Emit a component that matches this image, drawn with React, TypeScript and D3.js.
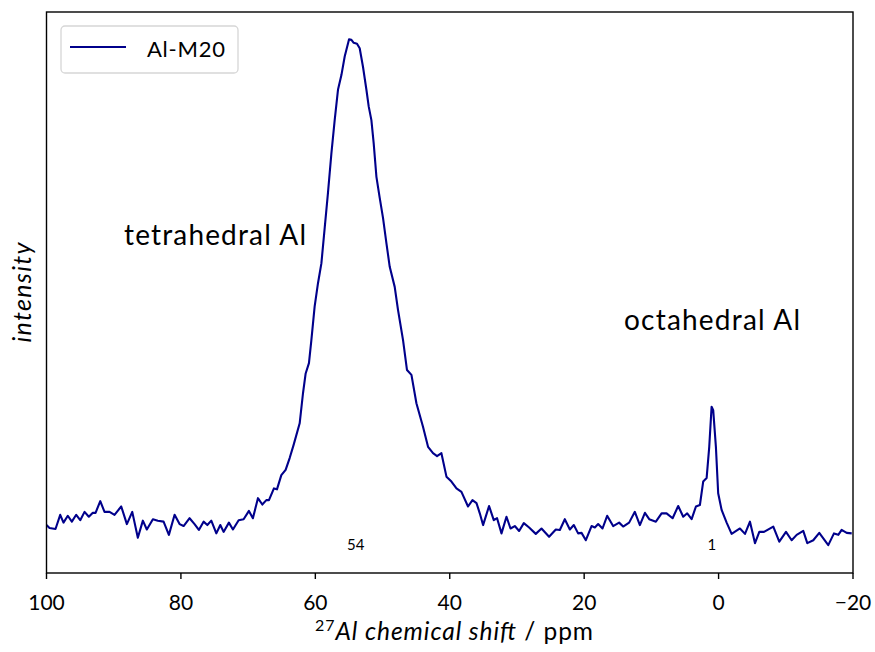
import React from "react";
import * as d3 from "d3";

const ppm: number[] = [
  100.0, 99.55, 98.66, 97.96, 97.47, 96.83, 96.23, 95.58, 94.98, 94.34, 93.7, 93.11, 92.7, 92.0, 91.37, 90.62, 89.88,
  88.88, 88.04, 87.24, 86.41, 85.66, 85.07, 84.17, 83.43, 82.58, 81.79, 80.94, 80.2, 79.6, 78.71, 77.97, 77.33,
  76.63, 76.07, 75.48, 74.73, 74.14, 73.65, 72.86, 72.26, 71.41, 70.67, 69.88, 69.29, 68.54, 67.89, 67.29, 66.9,
  66.16, 65.71, 65.06, 64.42, 63.82, 63.23, 62.33, 61.84, 61.44, 60.95, 60.59, 60.1, 59.61, 59.1, 58.61, 58.12,
  57.61, 57.12, 56.63, 56.12, 55.63, 54.99, 54.63, 54.29, 53.8, 53.4, 52.91, 52.4, 52.06, 51.66, 51.32, 50.91,
  50.42, 49.93, 49.42, 48.93, 48.19, 47.7, 46.95, 46.36, 45.7, 44.96, 43.98, 43.23, 42.49, 41.89, 41.24, 40.49,
  39.75, 39.0, 38.26, 37.28, 36.62, 36.02, 35.53, 35.04, 34.15, 33.45, 32.96, 32.3, 31.56, 30.96, 30.32, 29.68,
  28.98, 28.19, 27.2, 26.35, 25.22, 24.22, 23.62, 22.88, 22.13, 21.54, 20.9, 20.39, 19.75, 18.9, 18.41, 17.92,
  17.27, 16.58, 15.69, 14.8, 14.2, 13.31, 12.46, 11.71, 10.96, 10.32, 9.33, 8.48, 7.74, 6.84, 6.01, 5.26, 4.67,
  4.01, 3.37, 2.78, 2.29, 1.78, 1.39, 1.04, 0.8, 0.4, 0.06, -0.45, -1.2, -1.94, -3.18, -3.93, -4.67, -5.42, -6.06,
  -6.76, -8.14, -9.03, -10.03, -10.87, -11.62, -12.6, -13.2, -14.09, -14.98, -16.32, -17.17, -17.81, -18.31,
  -19.06, -19.81,
];

const intensity: number[] = [
  0.6, 0.0, -0.2, 2.7, 1.1, 2.5, 1.3, 2.7, 1.6, 3.3, 2.3, 3.1, 3.1, 5.5, 3.3, 3.3, 2.7,
  4.4, 0.8, 3.3, -2.0, 1.5, -0.3, 1.8, 1.5, 1.3, -1.4, 2.7, 0.8, 0.4, 2.0, 0.8, -0.4,
  1.3, 0.6, 1.5, -1.1, 0.6, -0.8, 1.1, -0.3, 1.6, 1.8, 3.5, 2.0, 6.1, 4.8, 5.7, 5.7,
  8.1, 7.9, 10.8, 11.9, 14.3, 17.0, 21.4, 27.5, 31.6, 33.7, 38.4, 45.3, 50.0, 54.1, 61.3, 68.5,
  76.6, 83.4, 89.6, 92.6, 96.4, 99.9, 99.8, 99.2, 99.0, 98.1, 94.3, 89.6, 86.2, 83.4, 78.7, 71.8,
  67.5, 63.4, 58.2, 53.4, 49.3, 44.6, 38.4, 32.3, 31.3, 25.5, 20.7, 16.6, 15.3, 14.7, 15.3, 10.5,
  9.5, 8.1, 7.4, 4.4, 5.7, 5.1, 3.0, 0.6, 4.5, 1.6, 2.0, -1.1, 2.3, -0.1, 0.4, -0.6,
  1.0, 0.1, -1.2, -0.1, -1.8, -0.3, -0.4, 1.8, -0.3, 0.6, -1.1, -1.0, -2.5, 0.4, 0.1, 0.8,
  -0.1, 2.5, 0.4, 1.1, 0.3, 1.1, 3.3, 0.6, 3.1, 1.8, 1.3, 3.0, 3.0, 2.0, 4.5, 2.3, 3.0,
  1.8, 4.4, 4.7, 9.5, 10.2, 16.6, 24.8, 24.1, 16.6, 7.1, 3.7, 1.1, -1.2, -0.1, -1.2, 1.3, -3.1, -0.8,
  -0.8, 0.3, -2.8, -0.8, -2.5, -1.4, -0.6, -3.1, -2.5, -1.0, -3.5, -1.1, -1.4, -0.4,
  -1.0, -1.1,
];

const xTicks: number[] = [100, 80, 60, 40, 20, 0, -20];
const peakLabels: number[] = [54, 1];
const seriesName = "Al-M20";

const W = 875;
const H = 652;
const left = 46.5;
const right = 853;
const top = 12;
const bottom = 573;
const FONT = "Lato, 'Open Sans', sans-serif";
const COLOR = "#00008b";

export default function App() {
  const x = d3.scaleLinear().domain([100, -20]).range([left, right]);
  const y = d3.scaleLinear().domain([-9.2, 105.5]).range([bottom, top]);
  const pts: [number, number][] = ppm.map((p, i) => [p, intensity[i]]);
  const line = d3
    .line<[number, number]>()
    .x((d) => x(d[0]))
    .y((d) => y(d[1]));

  const fmt = (v: number) => (v < 0 ? "\u2212" + Math.abs(v) : String(v));

  return (
    <svg width={W} height={H} style={{ position: "absolute", left: 0, top: 0, background: "#fff" }} fontFamily={FONT}>
      <rect x={0} y={0} width={W} height={H} fill="#fff" />
      <defs>
        <clipPath id="plotclip">
          <rect x={left} y={top} width={right - left} height={bottom - top} />
        </clipPath>
      </defs>
      <path d={line(pts) || ""} fill="none" stroke={COLOR} strokeWidth={2.1} strokeLinejoin="round" clipPath="url(#plotclip)" />
      {peakLabels.map((p) => (
        <text key={p} x={x(p)} y={550} fontSize={15} textAnchor="middle" fill="#000">
          {p}
        </text>
      ))}
      <text x={124} y={245} fontSize={28} textLength={182} fill="#000">
        tetrahedral Al
      </text>
      <text x={624} y={330} fontSize={28} textLength={176} fill="#000">
        octahedral Al
      </text>
      <rect x={left} y={top} width={right - left} height={bottom - top} fill="none" stroke="#000" strokeWidth={1.4} />
      {xTicks.map((t) => (
        <g key={t}>
          <line x1={x(t)} x2={x(t)} y1={bottom} y2={bottom + 6} stroke="#000" strokeWidth={1.4} />
          <text x={x(t)} y={610} fontSize={21} textAnchor="middle" fill="#000">
            {fmt(t)}
          </text>
        </g>
      ))}
      <text x={315} y={640} fontSize={24.5} textLength={278} fill="#000">
        <tspan fontSize={16} dy={-9}>27</tspan>
        <tspan fontStyle="italic" dy={9}>Al chemical shift</tspan>
        <tspan> / ppm</tspan>
      </text>
      <text transform={`translate(31,${(top + bottom) / 2}) rotate(-90)`} fontSize={25} fontStyle="italic" textAnchor="middle" textLength={100} fill="#000">
        intensity
      </text>
      <g>
        <rect x={61} y={26} width={177} height={47} rx={4} fill="#fff" fillOpacity={0.8} stroke="#d6d6d6" strokeWidth={1.3} />
        <line x1={70} x2={126} y1={47} y2={47} stroke={COLOR} strokeWidth={2.1} />
        <text x={147} y={57} fontSize={22} textLength={78} fill="#000">
          {seriesName}
        </text>
      </g>
    </svg>
  );
}
